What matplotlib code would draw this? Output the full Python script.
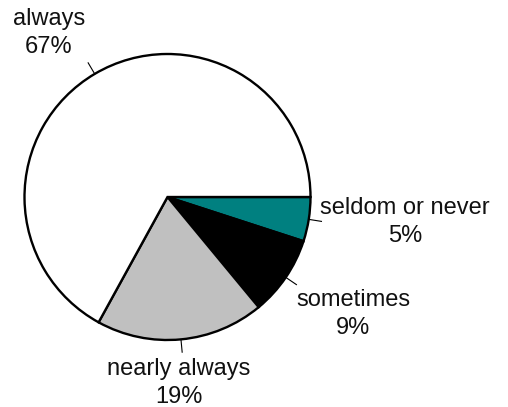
import numpy as np
import matplotlib
matplotlib.use("Agg")
import matplotlib.pyplot as plt

labels = ["seldom or never", "sometimes", "nearly always", "always"]
values = [5, 9, 19, 67]
colors = ["#008080", "#000000", "#c0c0c0", "#ffffff"]

# label block centres in pixels (from top-left)
label_px = [(405, 222), (353, 314), (179, 383), (49, 33)]

W, H = 508, 407
cx, cy, R = 167.5, 197.0, 143.0

plt.rcParams['font.family'] = ['Liberation Sans', 'DejaVu Sans']

fig = plt.figure(figsize=(W / 100, H / 100), dpi=100, facecolor='white')
ax = fig.add_axes([0, 0, 1, 1])

wedges, _ = ax.pie(values, colors=colors, startangle=0, counterclock=False,
                   radius=1.0, center=(0, 0), frame=False,
                   wedgeprops=dict(edgecolor='black', linewidth=1.7))
ax.set_xlim(-cx / R, (W - cx) / R)
ax.set_ylim(-(H - cy) / R, cy / R)
ax.set_aspect('equal')
ax.axis('off')

total = float(sum(values))
for w, lab, v, (px, py) in zip(wedges, labels, values, label_px):
    mid = np.deg2rad((w.theta1 + w.theta2) / 2.0)
    ax.plot([np.cos(mid) * 1.0, np.cos(mid) * 1.09],
            [np.sin(mid) * 1.0, np.sin(mid) * 1.09],
            color='black', linewidth=0.8)
    ax.text((px - cx) / R, (cy - py) / R,
            "%s\n%d%%" % (lab, round(100 * v / total)),
            ha='center', va='center', fontsize=17, linespacing=1.4,
            color='#111111')

fig.savefig('out.png', dpi=100, facecolor='white')
